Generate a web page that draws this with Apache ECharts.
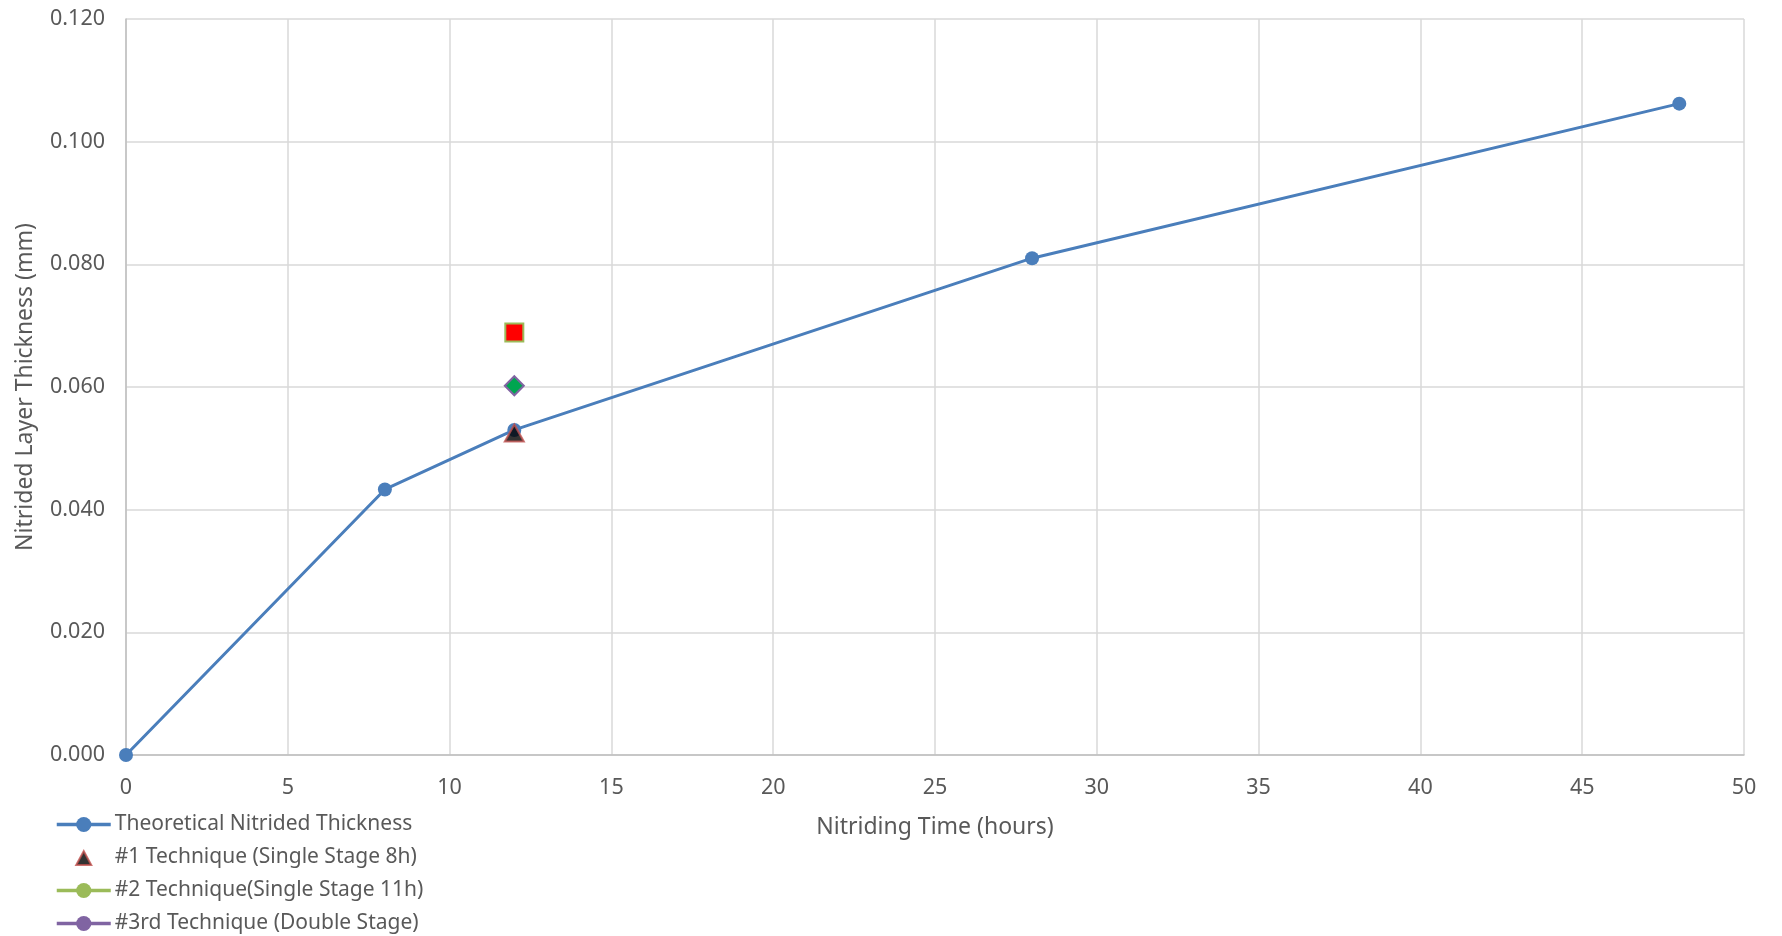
<!DOCTYPE html>
<html>
<head>
<meta charset="utf-8">
<script src="https://cdn.jsdelivr.net/npm/echarts@6/dist/echarts.min.js"></script>
<style>
  html, body { margin: 0; padding: 0; background: #fff; }
  #chart { width: 1782px; height: 936px; }
</style>
</head>
<body>
<div id="chart"></div>
<script>
// Nitriding time (hours) vs. nitrided layer thickness (mm)
const theoreticalTime = [0, 8, 12, 28, 48];
const theoreticalThickness = [0.000, 0.0433, 0.0530, 0.0810, 0.1062];

const tech1 = [[12, 0.0525]];   // #1 Single Stage 8h
const tech2 = [[12, 0.0689]];   // #2 Single Stage 11h
const tech3 = [[12, 0.0602]];   // #3 Double Stage

const seriesNames = [
  'Theoretical Nitrided Thickness',
  '#1 Technique (Single Stage 8h)',
  '#2 Technique(Single Stage 11h)',
  '#3rd Technique (Double Stage)'
];

const textColor = '#595959';
const font = 'Noto Sans';

// small triangle centred in the legend icon box (move-to corners keep the box size)
const legendTriangle = 'path://M0,0M54,19M19.5,17L27,3L34.5,17Z';

const chart = echarts.init(document.getElementById('chart'));
chart.setOption({
  animation: false,
  textStyle: { fontFamily: font, color: textColor },
  grid: { left: 126, right: 38, top: 19, bottom: 181, containLabel: false, outerBoundsMode: 'none' },
  xAxis: {
    type: 'value',
    min: 0, max: 50, interval: 5,
    name: 'Nitriding Time (hours)',
    nameLocation: 'middle',
    nameGap: 61,
    nameTextStyle: { fontSize: 23, color: textColor, fontFamily: font },
    axisLine: { show: true, lineStyle: { color: '#BFBFBF', width: 1.5 } },
    axisTick: { show: false },
    axisLabel: { fontSize: 21.5, color: textColor, margin: 22, fontFamily: font },
    splitLine: { show: true, lineStyle: { color: '#D9D9D9', width: 1.5 } }
  },
  yAxis: {
    type: 'value',
    min: 0, max: 0.12, interval: 0.02,
    name: 'Nitrided Layer Thickness (mm)',
    nameLocation: 'middle',
    nameGap: 89,
    nameTextStyle: { fontSize: 23, color: textColor, fontFamily: font },
    axisLine: { show: true, lineStyle: { color: '#BFBFBF', width: 1.5 } },
    axisTick: { show: false },
    axisLabel: {
      fontSize: 21.5, color: textColor, margin: 21, fontFamily: font,
      formatter: v => v.toFixed(3)
    },
    splitLine: { show: true, lineStyle: { color: '#D9D9D9', width: 1.5 } }
  },
  legend: {
    orient: 'vertical',
    left: 55,
    top: 814,
    padding: 0,
    itemGap: 12,
    itemWidth: 54,
    itemHeight: 19,
    lineStyle: { width: 3.5 },
    textStyle: { fontSize: 21, color: textColor, fontFamily: font, lineHeight: 20, padding: [0, 0, 0, -1] },
    data: [
      { name: seriesNames[0] },
      { name: seriesNames[1], icon: legendTriangle },
      { name: seriesNames[2] },
      { name: seriesNames[3] }
    ]
  },
  series: [
    {
      name: seriesNames[0],
      type: 'line',
      data: theoreticalTime.map((t, i) => [t, theoreticalThickness[i]]),
      symbol: 'circle',
      symbolSize: 14,
      itemStyle: { color: '#4A7EBB' },
      lineStyle: { color: '#4A7EBB', width: 3 },
      z: 2
    },
    {
      name: seriesNames[1],
      type: 'scatter',
      data: tech1,
      symbol: 'triangle',
      symbolSize: [19, 17],
      itemStyle: { color: '#000000', borderColor: '#C0504D', borderWidth: 2 },
      z: 5
    },
    {
      name: seriesNames[2],
      type: 'line',
      symbol: 'circle',
      symbolSize: 14,
      itemStyle: { color: '#9BBB59' },
      lineStyle: { color: '#9BBB59', width: 3 },
      data: tech2.map(p => ({
        value: p,
        symbol: 'rect',
        symbolSize: 18,
        itemStyle: { color: '#FF0000', borderColor: '#9BBB59', borderWidth: 2 }
      })),
      z: 4
    },
    {
      name: seriesNames[3],
      type: 'line',
      symbol: 'circle',
      symbolSize: 14,
      itemStyle: { color: '#8064A2' },
      lineStyle: { color: '#8064A2', width: 3 },
      data: tech3.map(p => ({
        value: p,
        symbol: 'diamond',
        symbolSize: 19,
        itemStyle: { color: '#00A550', borderColor: '#8064A2', borderWidth: 2 }
      })),
      z: 4
    }
  ]
});
</script>
</body>
</html>
